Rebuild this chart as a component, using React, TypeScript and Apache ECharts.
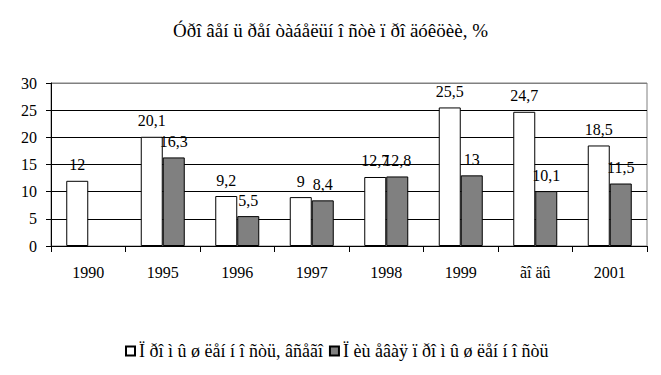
import React, { useEffect, useRef } from "react";
import * as echarts from "echarts";

const titleText = "Óðî âåí ü ðåí òàáåëüí î ñòè ï ðî äóêöèè, %";
const categories = ["1990", "1995", "1996", "1997", "1998", "1999", "ãî äû", "2001"];
const seriesNames = ["Ï ðî ì û ø ëåí í î ñòü, âñåãî", "Ï èù åâàÿ ï ðî ì û ø ëåí í î ñòü"];
const industryTotal = [12, 20.1, 9.2, 9, 12.7, 25.5, 24.7, 18.5];
const foodIndustry: (number | null)[] = [null, 16.3, 5.5, 8.4, 12.8, 13, 10.1, 11.5];
const yTicks = [0, 5, 10, 15, 20, 25, 30];

const FONT = "'Liberation Serif', 'Times New Roman', serif";

export default function App() {
  const ref = useRef<HTMLDivElement>(null);
  useEffect(() => {
    if (!ref.current) return;
    const chart = echarts.init(ref.current, null, { renderer: "svg" });
    const fmt = (p: any) => String(p.value).replace(".", ",");
    const labelCfg = {
      show: true,
      position: "top" as const,
      distance: 8,
      color: "#000",
      fontFamily: FONT,
      fontSize: 16,
      formatter: fmt,
    };
    chart.setOption({
      animation: false,
      backgroundColor: "#fff",
      textStyle: { fontFamily: FONT, color: "#000" },
      title: {
        text: titleText,
        left: "center",
        top: 16,
        textStyle: { fontFamily: FONT, fontSize: 19, fontWeight: "normal", color: "#000" },
      },
      legend: {
        bottom: 10,
        left: 120,
        icon: "rect",
        itemWidth: 9,
        itemHeight: 9,
        itemGap: 6,
        textStyle: { fontFamily: FONT, fontSize: 18, color: "#000", padding: [0, 0, 0, -1] },
        data: seriesNames,
      },
      grid: {
        left: 51,
        right: 14,
        top: 83,
        bottom: 129,
        show: true,
        borderColor: "#808080",
        borderWidth: 1,
        backgroundColor: "transparent",
      },
      xAxis: {
        type: "category",
        data: categories,
        axisLine: { lineStyle: { color: "#000", width: 1 } },
        axisTick: { show: true, length: 6, lineStyle: { color: "#000" } },
        axisLabel: { fontFamily: FONT, fontSize: 16, color: "#000", margin: 18 },
      },
      yAxis: {
        type: "value",
        min: yTicks[0],
        max: yTicks[yTicks.length - 1],
        interval: 5,
        axisLine: { show: true, lineStyle: { color: "#000", width: 1 } },
        axisTick: { show: true, length: 5, lineStyle: { color: "#000" } },
        axisLabel: { fontFamily: FONT, fontSize: 16, color: "#000", margin: 14 },
        splitLine: {
          show: true,
          lineStyle: { color: ["#000", "#000", "#000", "#000", "#000", "#000", "#808080"], width: 1 },
        },
      },
      series: [
        {
          name: seriesNames[0],
          type: "bar",
          data: industryTotal,
          barWidth: 22,
          barGap: "0%",
          itemStyle: { color: "#fff", borderColor: "#000", borderWidth: 1 },
          label: labelCfg,
        },
        {
          name: seriesNames[1],
          type: "bar",
          data: foodIndustry,
          barWidth: 22,
          barGap: "0%",
          itemStyle: { color: "#808080", borderColor: "#000", borderWidth: 1 },
          label: labelCfg,
        },
      ],
    });
    return () => chart.dispose();
  }, []);
  return (
    <div
      ref={ref}
      style={{ position: "fixed", left: 0, top: 0, width: 661, height: 375, background: "#fff" }}
    />
  );
}
